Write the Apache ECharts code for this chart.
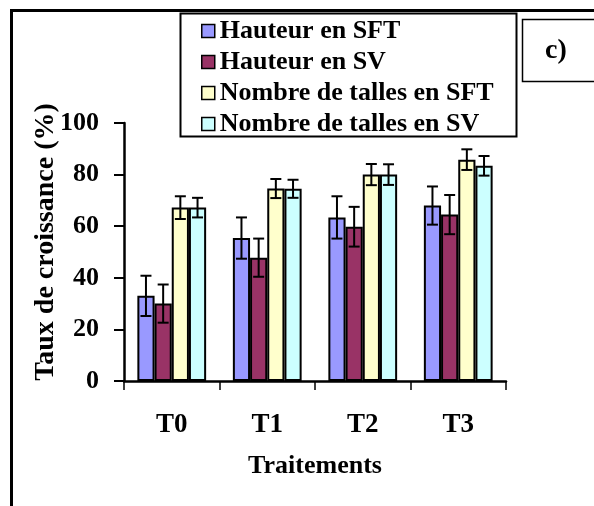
<!DOCTYPE html>
<html>
<head>
<meta charset="utf-8">
<script src="https://cdn.jsdelivr.net/npm/echarts@6/dist/echarts.min.js"></script>
<style>html,body{margin:0;padding:0;background:#fff;}#c{width:594px;height:506px;}</style>
</head>
<body>
<div id="c"></div>
<script>
const categories = ['T0', 'T1', 'T2', 'T3'];
const seriesNames = ['Hauteur en SFT', 'Hauteur en SV', 'Nombre de talles en SFT', 'Nombre de talles en SV'];
const hauteurSFT = [33, 55.4, 63.4, 68];
const hauteurSFTErr = [7.8, 8, 8.2, 7.4];
const hauteurSV = [30, 47.8, 59.8, 64.5];
const hauteurSVErr = [7.4, 7.4, 7.7, 7.6];
const tallesSFT = [67.2, 74.6, 80, 85.8];
const tallesSFTErr = [4.4, 3.7, 4.1, 4];
const tallesSV = [67.2, 74.5, 80, 83.4];
const tallesSVErr = [3.8, 3.5, 4, 3.8];
const yTicks = [0, 20, 40, 60, 80, 100];

const values = [hauteurSFT, hauteurSV, tallesSFT, tallesSV];
const errors = [hauteurSFTErr, hauteurSVErr, tallesSFTErr, tallesSVErr];
const colors = ['#9999FF', '#993366', '#FFFFCC', '#CCFFFF'];
const FONT = "'Liberation Serif', 'Times New Roman', serif";
const GAP = 0.28;

const chart = echarts.init(document.getElementById('c'), null, {renderer: 'canvas'});

const series = [];
values.forEach((v, i) => {
  series.push({
    name: seriesNames[i],
    type: 'bar',
    data: v,
    barGap: '0%',
    barCategoryGap: (GAP * 100) + '%',
    itemStyle: {color: colors[i], borderColor: '#000', borderWidth: 2},
    z: 2
  });
});
values.forEach((v, i) => {
  series.push({
    name: 'err' + i,
    type: 'custom',
    z: 5,
    data: v.map((val, k) => [k, val - errors[i][k], val + errors[i][k]]),
    encode: {x: 0, y: [1, 2]},
    renderItem: function (params, api) {
      const band = api.size([1, 0])[0];
      const bw = band * (1 - GAP) / 4;
      const lo = api.coord([api.value(0), api.value(1)]);
      const hi = api.coord([api.value(0), api.value(2)]);
      const x = lo[0] + (i - 1.5) * bw;
      const cap = 5.5;
      const style = {stroke: '#000', lineWidth: 2};
      return {
        type: 'group',
        children: [
          {type: 'line', shape: {x1: x, y1: lo[1], x2: x, y2: hi[1]}, style: style},
          {type: 'line', shape: {x1: x - cap, y1: lo[1], x2: x + cap, y2: lo[1]}, style: style},
          {type: 'line', shape: {x1: x - cap, y1: hi[1], x2: x + cap, y2: hi[1]}, style: style}
        ]
      };
    }
  });
});

chart.setOption({
  backgroundColor: '#fff',
  animation: false,
  grid: {left: 124, right: 88, top: 123, bottom: 125, containLabel: false},
  graphic: [
    {type: 'line', z: 0, shape: {x1: 11, y1: 10.5, x2: 594, y2: 10.5}, style: {stroke: '#000', lineWidth: 3}},
    {type: 'line', z: 0, shape: {x1: 11.5, y1: 9, x2: 11.5, y2: 506}, style: {stroke: '#000', lineWidth: 3}},
    {type: 'rect', z: 0, shape: {x: 180.5, y: 13.5, width: 336, height: 123}, style: {fill: '#fff', stroke: '#000', lineWidth: 2}},
    {type: 'rect', z: 0, shape: {x: 522.5, y: 19.5, width: 80, height: 62}, style: {fill: '#fff', stroke: '#000', lineWidth: 1.5}},
    {type: 'text', z: 1, x: 556, y: 51, style: {text: 'c)', font: 'bold 28px ' + FONT, fill: '#000', textAlign: 'center', textVerticalAlign: 'middle'}}
  ],
  legend: {
    data: seriesNames,
    orient: 'vertical',
    left: 196,
    top: 13,
    itemWidth: 13,
    itemHeight: 13,
    itemGap: 5,
    icon: 'rect',
    itemStyle: {borderColor: '#000', borderWidth: 1.5},
    textStyle: {fontFamily: FONT, fontWeight: 'bold', fontSize: 26, lineHeight: 26, color: '#000', padding: [0, 0, 0, 0]},
    z: 10
  },
  xAxis: {
    type: 'category',
    data: categories,
    name: 'Traitements',
    nameLocation: 'middle',
    nameGap: 72,
    nameMoveOverlap: false,
    nameTextStyle: {fontFamily: FONT, fontWeight: 'bold', fontSize: 26, color: '#000'},
    axisLine: {lineStyle: {color: '#000', width: 2.5}},
    axisTick: {show: true, length: 9, lineStyle: {color: '#000', width: 1.5}},
    axisLabel: {fontFamily: FONT, fontWeight: 'bold', fontSize: 27, color: '#000', margin: 31},
    splitLine: {show: false}
  },
  yAxis: {
    type: 'value',
    min: yTicks[0],
    max: yTicks[yTicks.length - 1],
    interval: 20,
    name: 'Taux de croissance (%)',
    nameLocation: 'middle',
    nameGap: 64,
    nameMoveOverlap: false,
    nameRotate: 90,
    nameTextStyle: {fontFamily: FONT, fontWeight: 'bold', fontSize: 28, color: '#000', padding: [0, 0, 0, 20]},
    axisLine: {show: true, lineStyle: {color: '#000', width: 2.5}},
    axisTick: {show: true, length: 10, lineStyle: {color: '#000', width: 2}},
    axisLabel: {fontFamily: FONT, fontWeight: 'bold', fontSize: 26, color: '#000', margin: 25},
    splitLine: {show: false}
  },
  series: series
});
</script>
</body>
</html>
